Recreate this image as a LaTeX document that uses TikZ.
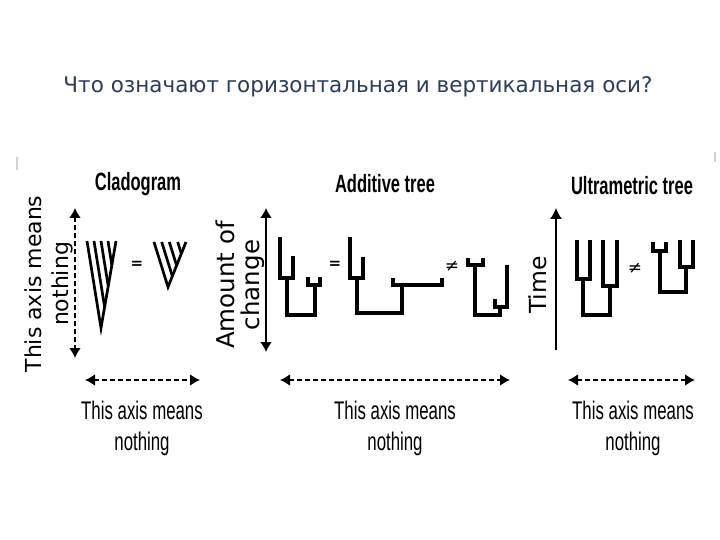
\documentclass[tikz,border=0pt]{standalone}
\usepackage{fontspec}
\setmainfont{DejaVu Sans}
\newfontfamily\condfont[FakeStretch=0.66]{Liberation Sans}
\newfontfamily\axisfont{DejaVu Sans}
\usetikzlibrary{arrows.meta}
\definecolor{titleblue}{RGB}{44,60,86}

\begin{document}
\begin{tikzpicture}[x=1pt,y=-1pt,>=Latex,
  head/.style={font=\condfont\bfseries\fontsize{25}{28}\selectfont},
  nothing/.style={font=\condfont\fontsize{25.5}{31}\selectfont,align=center},
  axlab/.style={font=\axisfont\fontsize{22}{27}\selectfont,align=center,rotate=90},
  rel/.style={font=\axisfont\bfseries\fontsize{15}{18}\selectfont},
  nrel/.style={font=\axisfont\fontsize{17}{18}\selectfont},
  branch/.style={line width=3.2pt,line cap=square},
  clade/.style={line width=2.7pt},
  dashaxis/.style={{Latex[length=10pt,width=12pt]}-{Latex[length=10pt,width=12pt]},line width=2pt,dash pattern=on 5pt off 3pt},
  solidaxis/.style={line width=2pt}]
\useasboundingbox (0,0) rectangle (720,540);

\node[font=\fontsize{21.5}{24}\selectfont,text=titleblue] (qtitle) at (358,87) {Что означают горизонтальная и вертикальная оси?};

% faint scan marks
\draw[gray!35,line width=1.5pt] (17,157) -- (17,170);
\draw[gray!35,line width=1.5pt] (715,152) -- (715,162);

% cladogram
\node[head] (h1) at (138,184) {Cladogram};
\node[axlab] (v1) at (49,284) {This axis means\\nothing};
\coordinate (v1a) at (75,208);
\coordinate (v1b) at (75,358);
\draw[dashaxis] (v1a) -- (v1b);
\draw[clade] (87,241) -- (101,328) -- (116,241);
\foreach \x in {94,101,108}
  \draw[clade] (\x,241) -- (intersection of \x,241--{\x+14},328 and 116,241--101,328);
\node[rel] (eq1) at (137,265) {=};
\draw[clade] (154,242) -- (168,287) -- (186,242);
\foreach \x in {161.7,169.3,177.7}
  \draw[clade] (\x,242) -- (intersection of \x,242--{\x+14},287 and 186,242--168,287);
\coordinate (h1a) at (85,380);
\coordinate (h1b) at (200,380);
\draw[dashaxis] (h1a) -- (h1b);
\node[nothing] (n1) at (142,428) {This axis means\\nothing};

% additive tree
\node[head] (h2) at (385,184) {Additive tree};
\node[axlab,font=\axisfont\fontsize{24.5}{25}\selectfont] (v2) at (240,285) {Amount of\\change};
\coordinate (v2a) at (266,208);
\coordinate (v2b) at (266,352);
\draw[solidaxis,{Latex[length=10pt,width=12pt]}-{Latex[length=10pt,width=12pt]}] (v2a) -- (v2b);
\draw[branch] (280,237) |- (293,278) -- (293,256);
\draw[branch] (287,278) |- (315,315) -- (315,285);
\draw[branch] (308,277) |- (320,285) -- (320,277);
\node[rel] (eq2) at (335,265) {=};
\draw[branch] (350,237) |- (363,278) -- (363,257);
\draw[branch] (357,278) |- (402,313) -- (402,285);
\draw[branch] (393,278) |- (442,285) -- (442,278);
\node[nrel] (ne2) at (452,266) {≠};
\draw[branch] (468,258) |- (483,265) -- (483,258);
\draw[branch] (475,265) |- (500,315) -- (500,307);
\draw[branch] (495,299) |- (507,307) -- (507,265);
\coordinate (h2a) at (280,380);
\coordinate (h2b) at (510,380);
\draw[dashaxis] (h2a) -- (h2b);
\node[nothing] (n2) at (395,428) {This axis means\\nothing};

% ultrametric tree
\node[head] (h3) at (632,186) {Ultrametric tree};
\node[axlab,font=\axisfont\fontsize{23.5}{27}\selectfont] (v3) at (538,285) {Time};
\coordinate (v3a) at (556,350);
\coordinate (v3b) at (556,208);
\draw[line width=1.3pt,-{Latex[length=11pt,width=12pt]}] (v3a) -- (v3b);
\draw[branch] (577,240) |- (590,279) -- (590,240);
\draw[branch] (603,240) |- (617,286) -- (617,240);
\draw[branch] (583,279) |- (610,315) -- (610,286);
\node[nrel] (ne3) at (635,268) {≠};
\draw[branch] (653,242) |- (666,251) -- (666,242);
\draw[branch] (680,240) |- (693,267) -- (693,240);
\draw[branch] (660,251) |- (686,292) -- (686,267);
\coordinate (h3a) at (568,380);
\coordinate (h3b) at (695,380);
\draw[dashaxis] (h3a) -- (h3b);
\node[nothing] (n3) at (633,428) {This axis means\\nothing};
\end{tikzpicture}
\end{document}
